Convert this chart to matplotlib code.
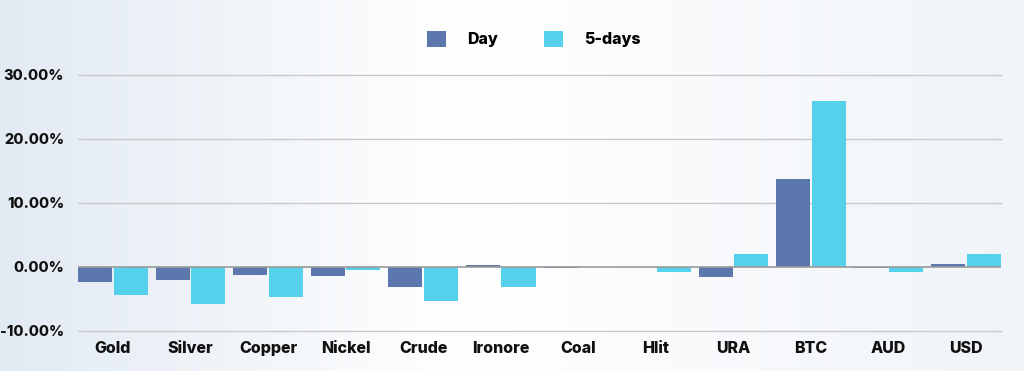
import numpy as np
import matplotlib
matplotlib.use("Agg")
import matplotlib.pyplot as plt
from matplotlib.ticker import FuncFormatter, FixedLocator

categories = ["Gold", "Silver", "Copper", "Nickel", "Crude", "Ironore",
              "Coal", "Hlit", "URA", "BTC", "AUD", "USD"]
day = [-2.4, -2.0, -1.3, -1.45, -3.05, 0.25, -0.1, 0.0, -1.5, 13.75, -0.1, 0.5]
five_days = [-4.3, -5.85, -4.7, -0.45, -5.35, -3.05, 0.0, -0.85, 2.05, 25.9, -0.85, 2.05]
y_ticks = [-10, 0, 10, 20, 30]

plt.rcParams['font.family'] = ['Inter', 'DejaVu Sans']

fig = plt.figure(figsize=(10.24, 3.71), dpi=100)

# background gradient
bg = fig.add_axes([0, 0, 1, 1], zorder=-10)
w = np.linspace(0, 1, 512)
left = np.array([226, 234, 243]) / 255
white = np.array([1.0, 1.0, 1.0])
right = np.array([240, 244, 249]) / 255
cols = []
for t in w:
    if t < 0.45:
        c = left + (white - left) * (t / 0.45)
    else:
        c = white + (right - white) * ((t - 0.45) / 0.55)
    cols.append(c)
img = np.array(cols)[None, :, :]
bg.imshow(img, aspect='auto', extent=[0, 1, 0, 1])
bg.axis('off')

ax = fig.add_axes([78/1024, 1-331/371, (1001-78)/1024, (331-75)/371])
ax.patch.set_alpha(0)

x = np.arange(len(categories))
bw = 0.44
c_day = '#5b77ad'
c_5d = '#55d1eb'
ax.bar(x - bw/2 - 0.01, day, width=bw, color=c_day, label='Day', zorder=3, clip_on=False)
ax.bar(x + bw/2 + 0.01, five_days, width=bw, color=c_5d, label='5-days', zorder=3, clip_on=False)

ax.set_xlim(-0.45, len(categories) - 0.55)
ax.set_ylim(-10, 30)
ax.yaxis.set_major_locator(FixedLocator(y_ticks))
ax.yaxis.set_major_formatter(FuncFormatter(lambda v, p: f"{v:.2f}%"))
for yv in y_ticks:
    if yv == 0:
        ax.axhline(yv, color='#9a9a9a', lw=1.2, zorder=4)
    else:
        ax.axhline(yv, color='#c9c9c9', lw=1.0, zorder=1, clip_on=False)

ax.set_xticks(x)
ax.set_xticklabels(categories)
for s in ax.spines.values():
    s.set_visible(False)
ax.tick_params(axis='both', length=0, colors='#111111')
ax.tick_params(axis='y', pad=10, labelsize=10.5)
ax.tick_params(axis='x', pad=7, labelsize=11.5)
for lbl in ax.get_xticklabels() + ax.get_yticklabels():
    lbl.set_fontweight('heavy')

leg = fig.legend(loc='center', bbox_to_anchor=(534/1024, 1-39/371), ncol=2, frameon=False,
                 handlelength=1.2, handleheight=1.2, columnspacing=2.9, handletextpad=1.3,
                 prop={'weight': 'heavy', 'size': 11.5})

fig.savefig('out.png', dpi=100)
